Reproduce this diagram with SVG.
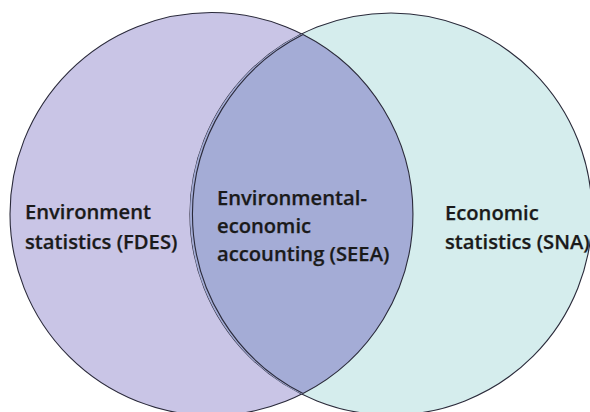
<svg xmlns="http://www.w3.org/2000/svg" width="590" height="412" viewBox="0 0 590 412">
<style>
.c{stroke:#2a2a3a;stroke-width:1.1}
.t{font-family:"Open Sans","Liberation Sans",sans-serif;font-weight:600;font-size:20.2px;fill:#1a1a1a;stroke:#1a1a1a;stroke-width:0.25}
</style>
<defs>
<clipPath id="clipL"><circle cx="211.5" cy="214" r="201.5"/></clipPath>
</defs>
<rect width="590" height="412" fill="#ffffff"/>
<g id="fdes">
<circle class="c" cx="211.5" cy="214" r="201.5" fill="#c9c5e6"/>
</g>
<g id="sna">
<circle class="c" cx="391" cy="214" r="201" fill="#d5eded"/>
</g>
<g id="seea">
<circle cx="391" cy="214" r="201" fill="#a4acd6" clip-path="url(#clipL)"/>
<path class="c" fill="none" d="M303,34.5 A201.5,201.5 0 0 1 303,393.5"/>
<path class="c" fill="none" d="M303,34.5 A201,201 0 0 0 303,393.5"/>
</g>
<g id="labels">
<text class="t" x="25" y="219">Environment</text>
<text class="t" x="25" y="249">statistics (FDES)</text>
<text class="t" x="217" y="205">Environmental-</text>
<text class="t" x="217" y="233">economic</text>
<text class="t" x="217" y="261">accounting (SEEA)</text>
<text class="t" x="445" y="220">Economic</text>
<text class="t" x="445" y="249">statistics (SNA)</text>
</g>
</svg>
